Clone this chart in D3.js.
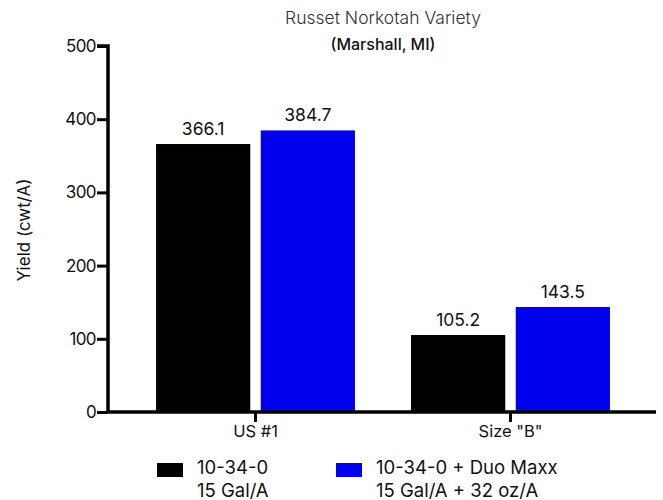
<!DOCTYPE html>
<html>
<head>
<meta charset="utf-8">
<script src="https://cdn.jsdelivr.net/npm/d3@7"></script>
<style>
  body { margin: 0; background: #fff; }
  text { font-family: "Inter", "Noto Sans", sans-serif; }
</style>
</head>
<body>
<div id="chart"></div>
<script>
// chart data
const categories = ["US #1", "Size \"B\""];
const seriesNames = ["10-34-0", "10-34-0 + Duo Maxx"];
const seriesSub = ["15 Gal/A", "15 Gal/A + 32 oz/A"];
const seriesColors = ["#000000", "#0000ee"];
const control = [366.1, 105.2];
const duoMaxx = [384.7, 143.5];
const yTicks = [0, 100, 200, 300, 400, 500];

const values = [control, duoMaxx];
const data = categories.map((c, i) => ({
    cat: c,
    vals: values.map((v, s) => ({ s: s, v: v[i] }))
}));

const W = 663, H = 500;
const svg = d3.select("#chart").append("svg")
    .attr("width", W).attr("height", H);

// scales
const y = d3.scaleLinear().domain([0, 500]).range([412, 46]);
const x0 = d3.scaleBand().domain(categories)
    .range([128, 638]).paddingInner(0.22).paddingOuter(0.11);
const x1 = d3.scaleBand().domain([0, 1])
    .range([0, x0.bandwidth()]).paddingInner(0.1);

// title
svg.append("text").attr("x", 383).attr("y", 24)
   .attr("text-anchor", "middle").attr("font-size", 17.5)
   .attr("font-weight", 300).attr("fill", "#333").text("Russet Norkotah Variety");
svg.append("text").attr("x", 383).attr("y", 50)
   .attr("text-anchor", "middle").attr("font-size", 16)
   .attr("font-weight", 500).attr("fill", "#111").text("(Marshall, MI)");

// bars
const g = svg.selectAll(".grp").data(data).enter().append("g")
    .attr("transform", d => `translate(${x0(d.cat)},0)`);
g.selectAll("rect").data(d => d.vals).enter().append("rect")
    .attr("x", d => x1(d.s))
    .attr("y", d => y(d.v))
    .attr("width", x1.bandwidth())
    .attr("height", d => y(0) - y(d.v))
    .attr("fill", d => seriesColors[d.s]);
g.selectAll(".lbl").data(d => d.vals).enter().append("text")
    .attr("x", d => x1(d.s) + x1.bandwidth() / 2)
    .attr("y", d => y(d.v) - 9)
    .attr("text-anchor", "middle").attr("font-size", 17.5)
    .attr("fill", "#111")
    .text(d => d.v.toFixed(1));

// y axis
const yAxis = svg.append("g").attr("transform", "translate(108,0)")
    .call(d3.axisLeft(y).tickValues(yTicks).tickSize(11).tickPadding(1));
yAxis.select(".domain").attr("stroke-width", 3.5).attr("d", `M-11,${y(500)}H0V${y(0)}`);
yAxis.selectAll(".tick line").attr("stroke-width", 3);
yAxis.selectAll(".tick text").attr("font-size", 17).attr("fill", "#111")
     .attr("font-family", "Inter").style("letter-spacing", "-0.6px");

// x axis
const xAxis = svg.append("g").attr("transform", `translate(0,${y(0)})`)
    .call(d3.axisBottom(x0).tickSize(10).tickPadding(3));
xAxis.select(".domain").attr("stroke-width", 3.5).attr("d", "M106.3,0H656");
xAxis.selectAll(".tick line").attr("stroke-width", 3);
xAxis.selectAll(".tick text").attr("font-size", 16.5).attr("fill", "#111")
     .attr("font-family", "Inter");

// y label
svg.append("text")
   .attr("transform", "translate(30,230) rotate(-90)")
   .attr("text-anchor", "middle").attr("font-size", 17).attr("fill", "#111")
   .text("Yield (cwt/A)");

// legend
const legX = [157, 336];
const leg = svg.selectAll(".leg").data(seriesNames).enter().append("g")
    .attr("transform", (d, i) => `translate(${legX[i]},0)`);
leg.append("rect").attr("x", 0).attr("y", 463).attr("width", 26).attr("height", 14)
   .attr("fill", (d, i) => seriesColors[i]);
leg.append("text").attr("x", 40).attr("y", 474).attr("font-size", 18.5).attr("fill", "#111")
   .text(d => d);
leg.append("text").attr("x", 40).attr("y", 497).attr("font-size", 18.5).attr("fill", "#111")
   .text((d, i) => seriesSub[i]);
</script>
</body>
</html>
